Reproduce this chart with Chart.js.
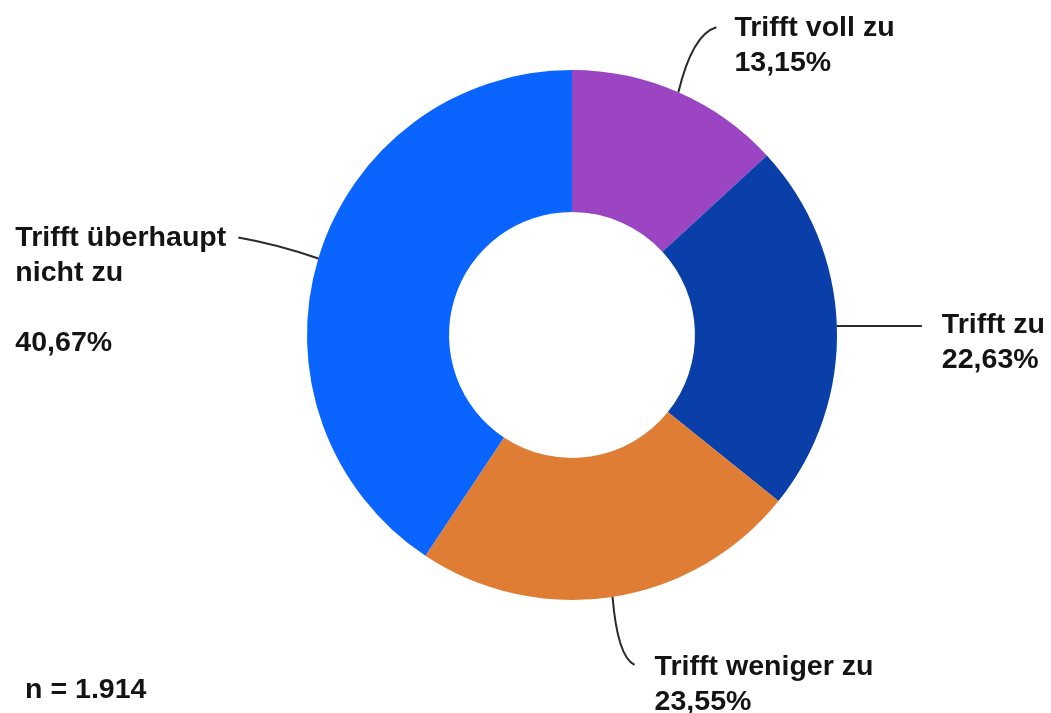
<!DOCTYPE html>
<html lang="de">
<head>
<meta charset="utf-8">
<title>Zustimmung</title>
<script src="https://cdn.jsdelivr.net/npm/chart.js@4.4.0/dist/chart.umd.min.js"></script>
<style>
  html, body { margin: 0; padding: 0; background: #fff; }
  #wrap { width: 1051px; height: 713px; position: relative; }
</style>
</head>
<body>
<div id="wrap"><canvas id="donut" width="1051" height="713"></canvas></div>
<script>
const categories = ["Trifft voll zu", "Trifft zu", "Trifft weniger zu", "Trifft überhaupt nicht zu"];
const shares = [13.15, 22.63, 23.55, 40.67];
const labelLines = [["Trifft voll zu"], ["Trifft zu"], ["Trifft weniger zu"], ["Trifft überhaupt", "nicht zu", ""]];
const sliceColors = ["#9b45c2", "#0a3fa9", "#de7d33", "#0a64ff"];
const sampleSize = 1914;

function fmtPercent(v) {
    return v.toFixed(2).replace(".", ",") + "%";
}

function fmtCount(n) {
    return String(n).replace(/\B(?=(\d{3})+(?!\d))/g, ".");
}

// leader line per slice: end offset (dx, dy) from the rim point, bend control (cx, cy),
// and text offset (tx, ty) from the line end; side "left" puts the text block before the line
const leaders = [
    { dx: 38, dy: -65, cx: 14, cy: -58, tx: 18, ty: 1, side: "right" },
    { dx: 85, dy: 0, cx: 40, cy: 0, tx: 20, ty: -1, side: "right" },
    { dx: 22, dy: 68, cx: 5, cy: 60, tx: 20, ty: 2, side: "right" },
    { dx: -80, dy: -21, cx: -40, cy: -14, tx: -12, ty: 1, side: "left" }
];

const FONT = "bold 28px Arial, 'Liberation Sans', Helvetica, sans-serif";
const STRETCH = 1.02;

function drawText(ctx, t, x, y) {
    ctx.save();
    ctx.translate(x, y);
    ctx.scale(STRETCH, 1);
    ctx.fillText(t, 0, 0);
    ctx.restore();
}

const calloutPlugin = {
    id: "callouts",
    afterDraw(chart) {
        const ctx = chart.ctx;
        const meta = chart.getDatasetMeta(0);
        const lineH = 35;
        ctx.save();
        ctx.font = FONT;
        ctx.fillStyle = "#141414";
        ctx.textBaseline = "middle";
        ctx.textAlign = "left";
        meta.data.forEach((arc, i) => {
            const p = arc.getProps(["x", "y", "startAngle", "endAngle", "outerRadius"], true);
            const mid = (p.startAngle + p.endAngle) / 2;
            const sx = p.x + Math.cos(mid) * p.outerRadius;
            const sy = p.y + Math.sin(mid) * p.outerRadius;
            const l = leaders[i];
            const ex = sx + l.dx, ey = sy + l.dy;

            ctx.beginPath();
            ctx.moveTo(sx, sy);
            ctx.quadraticCurveTo(sx + l.cx, sy + l.cy, ex, ey);
            ctx.strokeStyle = "#2a2a2a";
            ctx.lineWidth = 2;
            ctx.stroke();

            const lines = labelLines[i].concat([fmtPercent(shares[i])]);
            let left = ex + l.tx;
            if (l.side === "left") {
                left = ex + l.tx - ctx.measureText(lines[0]).width * STRETCH;
            }
            lines.forEach((t, k) => {
                drawText(ctx, t, left, ey + l.ty + k * lineH);
            });
        });
        drawText(ctx, "n = " + fmtCount(sampleSize), 25, 690);
        ctx.restore();
    }
};

new Chart(document.getElementById("donut"), {
    type: "doughnut",
    data: {
        labels: categories,
        datasets: [{
            data: shares,
            backgroundColor: sliceColors,
            borderWidth: 0,
            hoverOffset: 0
        }]
    },
    options: {
        responsive: false,
        animation: false,
        cutout: "46.4%",
        layout: { padding: { left: 307, right: 214, top: 70, bottom: 113 } },
        plugins: {
            legend: { display: false },
            tooltip: { enabled: false }
        }
    },
    plugins: [calloutPlugin]
});
</script>
</body>
</html>
